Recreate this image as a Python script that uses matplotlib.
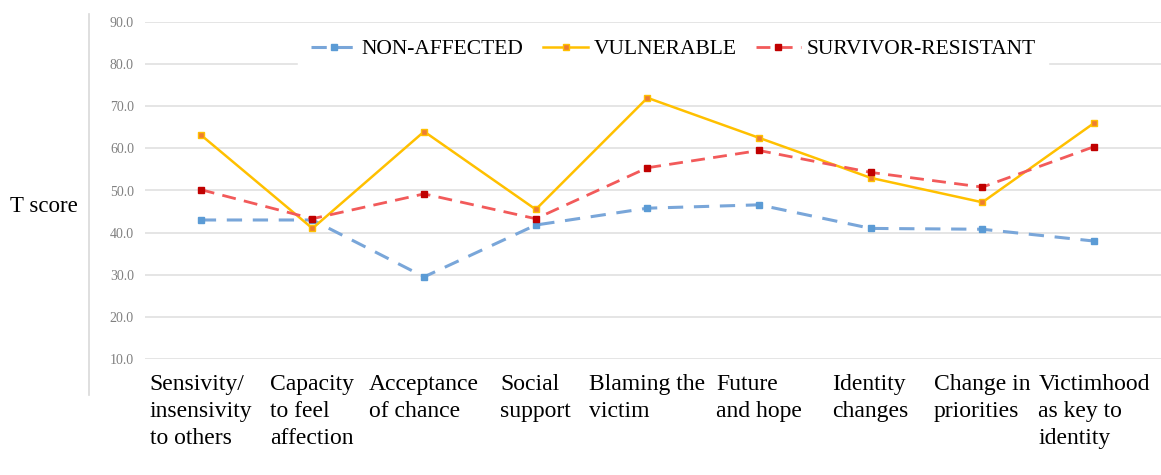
import matplotlib
matplotlib.use("Agg")
from matplotlib import pyplot as plt
from matplotlib.lines import Line2D
import numpy as np

# data
categories = ["Sensivity/\ninsensivity\nto others", "Capacity\nto feel\naffection",
              "Acceptance\nof chance", "Social\nsupport", "Blaming the\nvictim",
              "Future\nand hope", "Identity\nchanges", "Change in\npriorities",
              "Victimhood\nas key to\nidentity"]
non_affected = [43.0, 43.0, 29.5, 41.8, 45.8, 46.6, 41.0, 40.8, 38.0]
vulnerable = [63.2, 41.0, 64.0, 45.5, 72.0, 62.5, 53.0, 47.2, 66.0]
survivor = [50.2, 43.3, 49.2, 43.3, 55.4, 59.5, 54.3, 50.8, 60.4]
y_ticks = [10, 20, 30, 40, 50, 60, 70, 80, 90]

serif = ["Liberation Serif", "DejaVu Serif"]

fig = plt.figure(figsize=(11.61, 4.75), dpi=100)
ax = fig.add_axes([145/1161, 1 - 359/475, 1 - 145/1161, (359 - 22)/475])

x = np.arange(len(categories))
ax.plot(x, non_affected, color="#79A6D9", lw=2.2, dashes=(5, 3.5),
        marker="s", ms=5, mfc="#5B9BD5", mec="#5B9BD5", label="NON-AFFECTED")
ax.plot(x, vulnerable, color="#FFC000", lw=1.8,
        marker="s", ms=5, mfc="#ED7D31", mec="#FFC000", label="VULNERABLE")
ax.plot(x, survivor, color="#F25A5A", lw=2.0, dashes=(5, 3),
        marker="s", ms=5, mfc="#C00000", mec="#C00000", label="SURVIVOR-RESISTANT")

ax.set_ylim(10, 90)
ax.set_xlim(-0.5, 8.6)
ax.set_yticks(y_ticks)
ax.set_yticklabels(["%.1f" % v for v in y_ticks], family=serif, fontsize=10, color="#808080")
ax.set_xticks(x)
ax.set_xticklabels(categories, family=serif, fontsize=17, ha="center",
                   multialignment="left", linespacing=1.38, va="top")
ax.tick_params(axis="both", length=0)
ax.tick_params(axis="y", pad=8)
ax.tick_params(axis="x", pad=11)
ax.grid(axis="y", color="#E3E3E3", lw=1.3)
ax.set_axisbelow(True)
for s in ax.spines.values():
    s.set_visible(False)

# left border line of the chart area
fig.add_artist(Line2D([89/1161, 89/1161], [1 - 14/475, 1 - 395/475],
                      color="#D9D9D9", lw=1.2))

fig.text(10/1161, 1 - 207/475, "T score", family=serif, fontsize=16.5, va="center")

leg = ax.legend(loc="center", bbox_to_anchor=(0.52, 1 - 27/337), ncol=3,
                frameon=True, fancybox=False, edgecolor="white", framealpha=1,
                prop={"family": serif, "size": 15.5}, handlelength=2.1,
                columnspacing=0.9, handletextpad=0.25, borderpad=0.6)

fig.savefig("out.png", dpi=100)
